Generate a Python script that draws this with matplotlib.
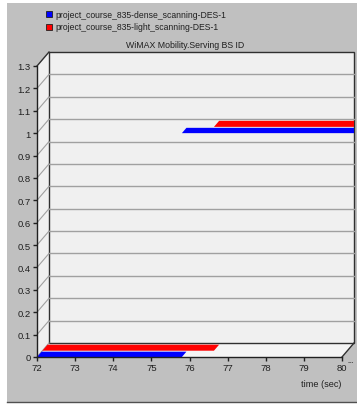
import numpy as np
import matplotlib
matplotlib.use("Agg")
import matplotlib.pyplot as plt
from matplotlib.patches import Polygon, Rectangle
from matplotlib.lines import Line2D
from matplotlib.transforms import IdentityTransform, Bbox

plt.rcParams['font.family'] = ['Liberation Sans', 'DejaVu Sans']

# step series: switching times (sec) and BS id held between them
dense_t = [72.0, 75.8, 80.5]
dense_v = [0, 1]
light_t = [72.0, 76.5, 80.5]
light_v = [0, 1]
names = ['project_course_835-dense_scanning-DES-1',
         'project_course_835-light_scanning-DES-1']
colors = ['#0000ff', '#ff0000']

x_ticks = np.arange(72, 81)
y_ticks = np.round(np.arange(0, 1.31, 0.1), 1)

W, H = 357, 406
DX, DY = 12, 14  # depth offset of the back plane, pixels
TXT = '#202020'

fig = plt.figure(figsize=(W / 100, H / 100), dpi=100)
fig.patch.set_facecolor('white')

def fpx(x, y):
    return x / W, 1 - y / H

# grey panel
fig.add_artist(Rectangle(fpx(7, 403), 350 / W, 399 / H, transform=fig.transFigure,
                         fc='#c0c0c0', ec='none', zorder=-2))
fig.add_artist(Line2D([7 / W, 1], [1 - 403 / H] * 2, transform=fig.transFigure,
                      color='#505050', lw=1, zorder=-1))

ax = fig.add_axes([37 / W, 1 - 358 / H, 305 / W, 291 / H])
ax.set_xlim(72, 80)
ax.set_ylim(0, 1.3)
ax.patch.set_visible(False)
ax.set_zorder(5)
for s in ['top', 'right']:
    ax.spines[s].set_visible(False)
for s in ['left', 'bottom']:
    ax.spines[s].set_color(TXT)
    ax.spines[s].set_linewidth(1)
ax.set_xticks(x_ticks)
ax.set_xticklabels([str(t) for t in x_ticks])
ax.set_yticks(y_ticks)
ax.set_yticklabels([f"{v:g}" for v in y_ticks])
ax.tick_params(direction='out', length=3, width=1, colors=TXT,
               labelsize=6.8, pad=1.5)


def proj(x, y, d=0.0):
    px, py = ax.transData.transform((x, y))
    return (px + DX * d, py + DY * d)


def poly(pts, **kw):
    p = Polygon(pts, closed=True, transform=IdentityTransform(), **kw)
    fig.add_artist(p)
    return p


def seg(a, b, **kw):
    ln = Line2D([a[0], b[0]], [a[1], b[1]], transform=IdentityTransform(), **kw)
    fig.add_artist(ln)
    return ln


x0, x1 = x_ticks[0], x_ticks[-1]
y0, y1 = y_ticks[0], y_ticks[-1]

# walls
poly([proj(x0, y0), proj(x0, y1), proj(x0, y1, 1), proj(x0, y0, 1)],
     fc='#f0f0f0', ec='none', zorder=0.5)
poly([proj(x0, y0), proj(x1, y0), proj(x1, y0, 1), proj(x0, y0, 1)],
     fc='#f4f4f4', ec='none', zorder=0.5)
poly([proj(x0, y0, 1), proj(x1, y0, 1), proj(x1, y1, 1), proj(x0, y1, 1)],
     fc='#f0f0f0', ec='#303030', lw=1, zorder=1)
seg(proj(x0, y1), proj(x0, y1, 1), color='#303030', lw=1, zorder=1.5)
seg(proj(x1, y0), proj(x1, y0, 1), color='#303030', lw=1, zorder=1.5)

# grid
for v in y_ticks[:-1]:
    seg(proj(x0, v), proj(x0, v, 1), color='#a0a0a0', lw=0.8, zorder=1.2)
    if v > 0:
        seg(proj(x0, v, 1), proj(x1, v, 1), color='#a0a0a0', lw=1, zorder=1.2)

# ribbons
clip = Bbox([[0, 0], [proj(x1, y0, 1)[0], H]])
series = [(light_t, light_v, colors[1], (0.45, 0.88)),
          (dense_t, dense_v, colors[0], (0.0, 0.38))]
for t, vals, c, (d0, d1) in series:
    for i, v in enumerate(vals):
        p = poly([proj(t[i], v, d0), proj(t[i + 1], v, d0),
                  proj(t[i + 1], v, d1), proj(t[i], v, d1)],
                 fc=c, ec='none', zorder=3)
        p.set_clip_box(clip)

# legend
for i, (n, c) in enumerate(zip(names, colors)):
    yc = 15 + 13 * i
    fig.add_artist(Rectangle(fpx(46, yc + 3), 6 / W, 6 / H, transform=fig.transFigure,
                             fc=c, ec=TXT, lw=0.6, zorder=2))
    fig.text(*fpx(55, yc), n, fontsize=6.2, va='center', ha='left', color=TXT)

fig.text(*fpx(185, 46), 'WiMAX Mobility.Serving BS ID', fontsize=6.3,
         ha='center', va='center', color=TXT)
fig.text(*fpx(341, 385), 'time (sec)', fontsize=6.6, ha='right', va='center',
         color=TXT)
fig.text(*fpx(348, 362), '...', fontsize=5.5, ha='left', va='center',
         color=TXT, fontweight='bold')

fig.savefig('out.png', dpi=100)
